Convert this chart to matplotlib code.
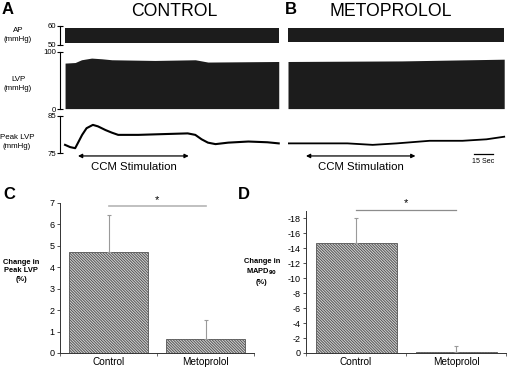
import matplotlib
matplotlib.use("Agg")
import matplotlib.pyplot as plt
import matplotlib.transforms as mtransforms

plt.rcParams['font.family'] = ['Liberation Sans', 'DejaVu Sans']
plt.rcParams['axes.unicode_minus'] = False
plt.rcParams['hatch.linewidth'] = 0.7
plt.rcParams['hatch.color'] = '#7a7a7a'

# ---- trace data (time in seconds) ----
ctrl_time = [0, 4, 8, 10, 13.5, 17, 22, 26, 32, 37, 42, 58, 77, 97, 103, 108, 113, 119, 129, 145, 160, 169]
ctrl_peak = [77.2, 76.6, 76.3, 77.6, 79.9, 81.7, 82.6, 82.2, 81.2, 80.5, 79.9, 79.9, 80.1, 80.3, 79.9,
             78.7, 77.8, 77.4, 77.8, 78.1, 77.9, 77.6]
meto_time = [0, 20, 47, 67, 86, 112, 138, 157, 171]
meto_peak = [77.6, 77.6, 77.6, 77.2, 77.6, 78.3, 78.3, 78.7, 79.4]

ctrl_lvp_time = [0, 8, 13, 21, 29, 37, 71, 103, 113, 169]
ctrl_lvp_top = [80.2, 81.2, 86, 88.9, 87.7, 86, 84.8, 86, 82, 83]
meto_lvp_time = [0, 90, 171]
meto_lvp_top = [83, 84, 87]
lvp_bottom = 1.2

ctrl_ap_span = [0, 169]
meto_ap_span = [0, 171]
ctrl_ap = (50.6, 58.8)
meto_ap = (51.2, 58.8)

ctrl_stim = (8, 100)
meto_stim = (12, 103)
scale_bar = (147, 162)

# ---- bar data ----
groups = ['Control', 'Metoprolol']
peak_change = [4.72, 0.65]
peak_err = [1.73, 0.9]
mapd_change = [-14.7, -0.12]
mapd_err = [3.3, 0.88]

W, H = 508, 371
fig = plt.figure(figsize=(W / 100, H / 100), dpi=100)


def box(x0, y0, x1, y1):
    return [x0 / W, 1 - y1 / H, (x1 - x0) / W, (y1 - y0) / H]


def ftext(x, y, s, **kw):
    fig.text(x / W, 1 - y / H, s, **kw)


def trace_axes(y0, y1, ylim):
    a = fig.add_axes(box(60, y0, 280, y1))
    b = fig.add_axes(box(288, y0, 508, y1))
    a.set_xlim(-4, 170)
    b.set_xlim(0, 174)
    for ax in (a, b):
        ax.set_ylim(*ylim)
        for s in ('top', 'right', 'bottom'):
            ax.spines[s].set_visible(False)
        ax.set_xticks([])
        ax.patch.set_alpha(0)
    a.spines['left'].set_linewidth(0.8)
    a.set_yticks(list(ylim))
    a.tick_params(axis='y', direction='inout', length=4, width=0.8, labelsize=5.6, pad=1)
    b.spines['left'].set_visible(False)
    b.set_yticks([])
    return a, b


band = '#1c1c1c'
ap_c, ap_m = trace_axes(26, 44.5, (50, 60))
ap_c.fill_between(ctrl_ap_span, ctrl_ap[0], ctrl_ap[1], color=band, lw=0)
ap_m.fill_between(meto_ap_span, meto_ap[0], meto_ap[1], color=band, lw=0)

lvp_c, lvp_m = trace_axes(51.7, 109.3, (0, 100))
lvp_c.fill_between(ctrl_lvp_time, lvp_bottom, ctrl_lvp_top, color=band, lw=0)
lvp_m.fill_between(meto_lvp_time, lvp_bottom, meto_lvp_top, color=band, lw=0)

pk_c, pk_m = trace_axes(116, 153, (75, 85))
pk_c.plot(ctrl_time, ctrl_peak, color='black', lw=1.5)
pk_m.plot(meto_time, meto_peak, color='black', lw=1.3)

for ax, (t0, t1) in ((pk_c, ctrl_stim), (pk_m, meto_stim)):
    tr = mtransforms.blended_transform_factory(ax.transData, ax.transAxes)
    ax.annotate('', xy=(t1, -0.08), xytext=(t0, -0.08), xycoords=tr, textcoords=tr,
                arrowprops=dict(arrowstyle='<|-|>', color='black', lw=0.9, mutation_scale=6),
                annotation_clip=False)
    ax.text((t0 + t1) / 2 + 0.5, -0.38, 'CCM Stimulation', transform=tr, ha='center',
            va='center', fontsize=8.2)

tr = mtransforms.blended_transform_factory(pk_m.transData, pk_m.transAxes)
pk_m.plot(scale_bar, [-0.03, -0.03], transform=tr, color='black', lw=0.9, clip_on=False)
pk_m.text(sum(scale_bar) / 2, -0.24, '15 Sec', transform=tr, ha='center', va='center', fontsize=5.1)

ftext(18, 35, 'AP\n(mmHg)', ha='center', va='center', fontsize=5.7, linespacing=1.3)
ftext(18, 84, 'LVP\n(mmHg)', ha='center', va='center', fontsize=5.7, linespacing=1.3)
ftext(17, 142, 'Peak LVP\n(mmHg)', ha='center', va='center', fontsize=5.7, linespacing=1.3)

ftext(174, 11, 'CONTROL', ha='center', va='center', fontsize=12.7)
ftext(391, 11, 'METOPROLOL', ha='center', va='center', fontsize=12.7)
ftext(8, 10, 'A', ha='center', va='center', fontsize=12, fontweight='bold')
ftext(291, 10, 'B', ha='center', va='center', fontsize=12, fontweight='bold')
ftext(9, 195, 'C', ha='center', va='center', fontsize=12, fontweight='bold')
ftext(244, 195, 'D', ha='center', va='center', fontsize=12, fontweight='bold')


# ---- bar panels ----
def bar_axes(x0, x1, ytop, xlim):
    ax = fig.add_axes(box(x0, ytop, x1, 353))
    ax.set_xlim(*xlim)
    for s in ('top', 'right'):
        ax.spines[s].set_visible(False)
    for s in ('left', 'bottom'):
        ax.spines[s].set_linewidth(0.7)
        ax.spines[s].set_color('#333333')
    ax.set_xticks([0, 1])
    ax.set_xticklabels(groups, fontsize=7.2)
    ax.tick_params(axis='x', length=0, pad=3)
    ax.set_xticks([-0.5, 0.5, 1.5], minor=True)
    ax.tick_params(axis='x', which='minor', length=2.5, width=0.6, color='#555555')
    ax.tick_params(axis='y', length=2.5, width=0.6, labelsize=6.5, pad=1.5, color='#333333')
    return ax


bar_kw = dict(width=0.81, color='#d4d4d4', edgecolor='#555555', linewidth=0.6,
              hatch='\\' * 12,
              error_kw=dict(ecolor='#9a9a9a', elinewidth=0.8, capsize=1.5, capthick=0.8))

axc = bar_axes(60, 254, 203, (-0.5, 1.44))
axc.bar([0, 1], peak_change, yerr=[[0, 0], peak_err], **bar_kw)
axc.set_ylim(0, 7)
axc.set_yticks(range(0, 8))
axc.plot([0, 1], [6.85, 6.85], color='#b5b5b5', lw=1.2, clip_on=False)
axc.text(0.5, 7.15, '*', ha='center', va='center', fontsize=8)
ftext(21, 271, 'Change in\nPeak LVP\n(%)', ha='center', va='center', fontsize=5.4,
      fontweight='bold', linespacing=1.3)

axd = bar_axes(306, 506, 210.7, (-0.5, 1.5))
axd.bar([0, 1], mapd_change, yerr=[mapd_err, [0, 0]], **bar_kw)
axd.set_ylim(0, -19)
axd.set_yticks(range(0, -19, -2))
axd.plot([0, 1], [-19.1, -19.1], color='#8c8c8c', lw=0.9, clip_on=False)
axd.text(0.5, -20.0, '*', ha='center', va='center', fontsize=8)
ftext(262, 272, 'Change in\nMAPD$_{\\mathbf{90}}$\n(%)', ha='center', va='center', fontsize=5.4,
      fontweight='bold', linespacing=1.3)

fig.savefig('out.png', dpi=100)
